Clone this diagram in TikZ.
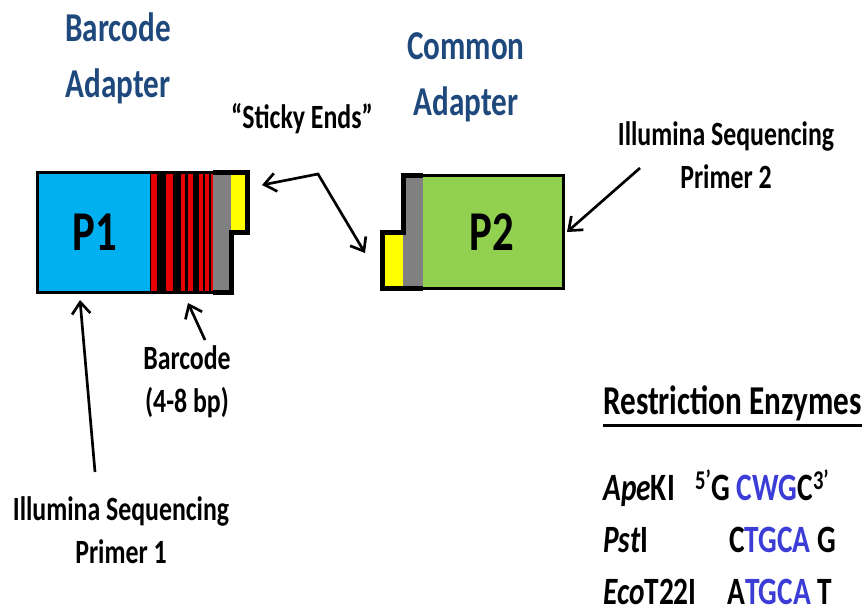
\documentclass[tikz,border=0pt]{standalone}
\usepackage{fontspec}
\setmainfont{Carlito}[FakeStretch=0.76]
\usetikzlibrary{arrows.meta,positioning}
\definecolor{HeadBlue}{RGB}{31,73,125}
\definecolor{SeqBlue}{RGB}{60,60,215}
\definecolor{PrimerBlue}{RGB}{0,176,240}
\definecolor{PrimerGreen}{RGB}{146,208,80}
\definecolor{StripeRed}{RGB}{230,0,0}
\definecolor{OverhangYellow}{RGB}{255,255,0}
\definecolor{SpacerGrey}{RGB}{128,128,128}
\newcommand{\redstripe}[2]{%
  \fill[StripeRed] (#1,172) rectangle (#2,292);}

\begin{document}
\begin{tikzpicture}[x=0.03cm,y=-0.03cm,
  toplabel/.style={font=\fontsize{35}{47}\selectfont\bfseries,text=HeadBlue,align=center,inner sep=0pt,anchor=base},
  lbl/.style={font=\fontsize{29}{36.7}\selectfont\bfseries,align=center,inner sep=0pt,anchor=base},
  enz/.style={font=\fontsize{33}{40}\selectfont\bfseries,inner sep=0pt,anchor=base west},
  pname/.style={font=\fontsize{48}{48}\selectfont\bfseries,inner sep=0pt},
  outline/.style={line width=0.9mm,line join=miter},
  thickoutline/.style={line width=1.5mm,line join=miter},
  arr/.style={-{Straight Barb[length=3.5mm,width=5.5mm]},line width=0.8mm},
  twoarr/.style={{Straight Barb[length=3.5mm,width=5.5mm]}-{Straight Barb[length=3.5mm,width=5.5mm]},line width=0.8mm,line join=miter}]
  \useasboundingbox (0,0) rectangle (867,610);
  % barcode adapter
  \fill[PrimerBlue] (37,172) rectangle (150,292);
  \fill[black] (150,172) rectangle (213,292);
  \redstripe{151}{157}
  \redstripe{166}{173}
  \redstripe{181}{185}
  \redstripe{188}{193}
  \redstripe{199}{203}
  \redstripe{205}{209}
  \redstripe{211}{213}
  \fill[SpacerGrey] (213,172) rectangle (231,292);
  \fill[OverhangYellow] (231,172) rectangle (247,232);
  \draw[outline] (37,172) -- (247,172) -- (247,232) -- (231,232) -- (231,292) -- (37,292) -- cycle;
  \draw[thickoutline] (213,172) -- (247,172) -- (247,232) -- (231,232) -- (231,292) -- (213,292);
  \node[pname] (p1) at (95,232) {P1};
  % common adapter
  \fill[PrimerGreen] (423,175) rectangle (563,288);
  \fill[SpacerGrey] (403,175) rectangle (423,288);
  \fill[OverhangYellow] (382,232) rectangle (403,288);
  \draw[outline] (403,175) -- (563,175) -- (563,288) -- (382,288) -- (382,232) -- (403,232) -- cycle;
  \draw[thickoutline] (423,175) -- (403,175) -- (403,232) -- (382,232) -- (382,288) -- (423,288);
  \node[pname] (p2) at (492,232) {P2};
  % labels
  \node[toplabel] (bcadapter) at (118,97) {Barcode\\Adapter};
  \node[toplabel] (comadapter) at (466,115) {Common\\Adapter};
  \node[lbl] (sticky) at (302,128) {“Sticky Ends”};
  \node[lbl] (ip2) at (726,188) {Illumina Sequencing\\Primer 2};
  \node[lbl] (bclabel) at (187,412) {Barcode\\(4-8 bp)};
  \node[lbl] (ip1) at (121,563) {Illumina Sequencing\\Primer 1};
  % arrows
  \coordinate (stickyjoint) at (318,174);
  \coordinate (p1end) at (262,185);
  \coordinate (p2end) at (365,253);
  \draw[twoarr] (p1end) -- (stickyjoint) -- (p2end);
  \coordinate (ip2tail) at (640,168);
  \coordinate (p2right) at (567,232);
  \draw[arr] (ip2tail) -- (p2right);
  \coordinate (ip1tail) at (95,472);
  \coordinate (p1bottom) at (80,300);
  \draw[arr] (ip1tail) -- (p1bottom);
  \coordinate (bctail) at (205,340);
  \coordinate (bcstripes) at (188,303);
  \draw[arr] (bctail) -- (bcstripes);
  % restriction enzymes
  \node[enz,font=\fontsize{35}{40}\selectfont\bfseries] (re) at (603,414) {Restriction Enzymes};
  \draw[line width=0.9mm] ([shift={(0,11)}]re.base west) -- ([shift={(0,11)}]re.base east);
  \node[enz] (apeki) at (603,500) {\textit{Ape}KI};
  \node[enz] (psti) at (603,552) {\textit{Pst}I};
  \node[enz] (ecot) at (603,604) {\textit{Eco}T22I};
  \node[enz] (apekiseq) at (695,500) {\textsuperscript{5’}G \textcolor{SeqBlue}{CWG}C\textsuperscript{3’}};
  \node[enz] (pstiseq) at (729,552) {C\textcolor{SeqBlue}{TGCA} G};
  \node[enz] (ecotseq) at (727,604) {A\textcolor{SeqBlue}{TGCA} T};
\end{tikzpicture}
\end{document}
